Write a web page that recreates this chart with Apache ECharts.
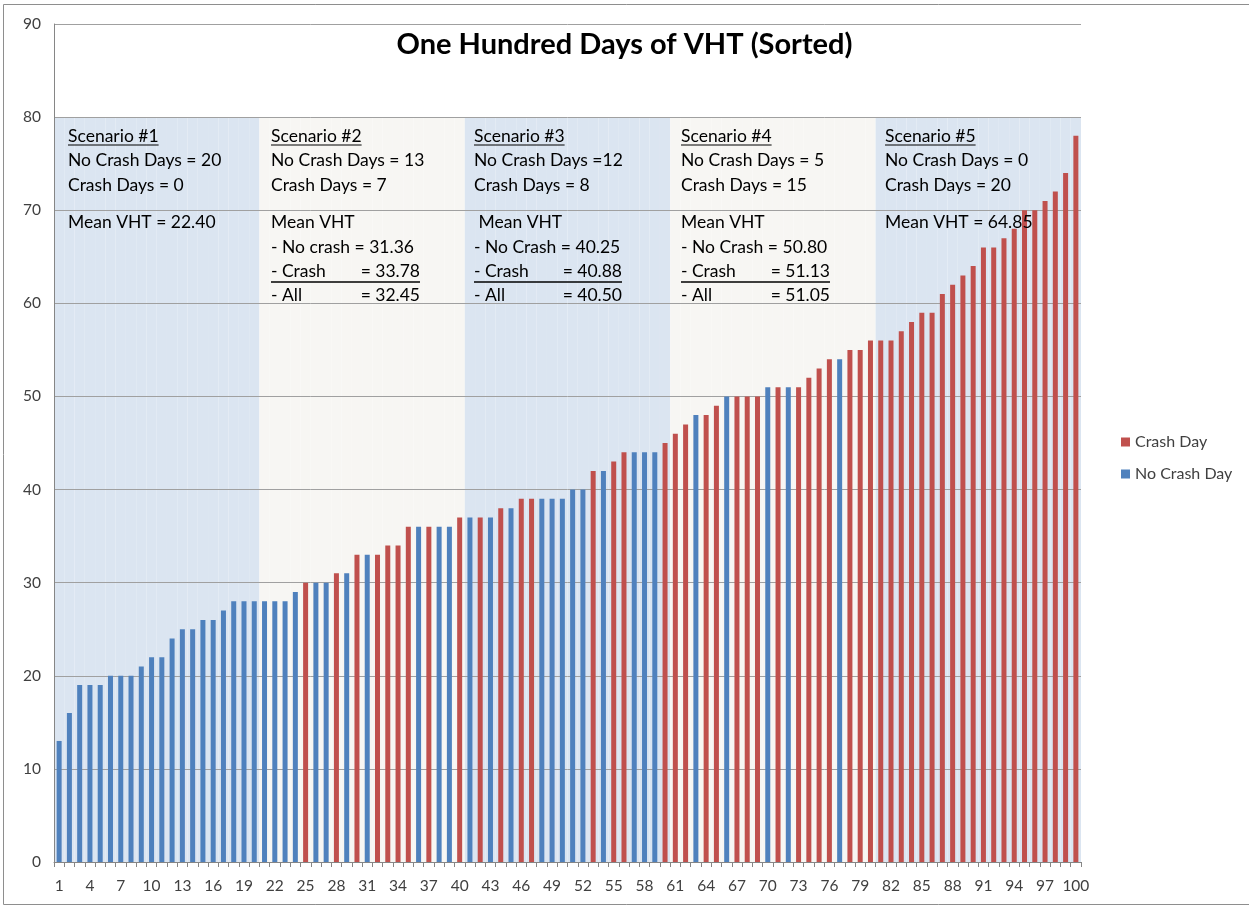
<!DOCTYPE html>
<html>
<head>
<meta charset="utf-8">
<script src="https://cdn.jsdelivr.net/npm/echarts@6/dist/echarts.min.js"></script>
<style>
html,body{margin:0;padding:0;background:#fff;}
#chart{width:1249px;height:907px;}
</style>
</head>
<body>
<div id="chart"></div>
<script>
// ---------- data ----------
const days = [1,2,3,4,5,6,7,8,9,10,11,12,13,14,15,16,17,18,19,20,
  21,22,23,24,25,26,27,28,29,30,31,32,33,34,35,36,37,38,39,40,
  41,42,43,44,45,46,47,48,49,50,51,52,53,54,55,56,57,58,59,60,
  61,62,63,64,65,66,67,68,69,70,71,72,73,74,75,76,77,78,79,80,
  81,82,83,84,85,86,87,88,89,90,91,92,93,94,95,96,97,98,99,100];
const vht = [13,16,19,19,19,20,20,20,21,22,22,24,25,25,26,26,27,28,28,28,
  28,28,28,29,30,30,30,31,31,33,33,33,34,34,36,36,36,36,36,37,
  37,37,37,38,38,39,39,39,39,39,40,40,42,42,43,44,44,44,44,45,
  46,47,48,48,49,50,50,50,50,51,51,51,51,52,53,54,54,55,55,56,
  56,56,57,58,59,59,61,62,63,64,66,66,67,68,70,70,71,72,74,78];
// C = crash day, N = no crash day
const dayType = ['N','N','N','N','N','N','N','N','N','N','N','N','N','N','N','N','N','N','N','N',
  'N','N','N','N','C','N','N','C','N','C','N','C','C','C','C','N','C','N','N','C',
  'N','C','N','C','N','C','C','N','N','N','N','N','C','N','C','C','N','N','N','C',
  'C','C','N','C','C','N','C','C','C','N','C','N','C','C','C','C','N','C','C','C',
  'C','C','C','C','C','C','C','C','C','C','C','C','C','C','C','C','C','C','C','C'];
const seriesNames = ['Crash Day','No Crash Day'];
const yTicks = [0,10,20,30,40,50,60,70,80,90];
const scenarioTop = 80;
const scenarioSize = 20;
const scenarioHeaders = ['Scenario #1','Scenario #2','Scenario #3','Scenario #4','Scenario #5'];
const countLines = [
  ['No Crash Days = 20','Crash Days = 0'],
  ['No Crash Days = 13','Crash Days = 7'],
  ['No Crash Days =12','Crash Days = 8'],
  ['No Crash Days = 5','Crash Days = 15'],
  ['No Crash Days = 0','Crash Days = 20']];
const meanLines = [
  ['Mean VHT = 22.40'],
  ['Mean VHT','- No crash = 31.36',['- Crash','= 33.78'],['- All','= 32.45']],
  [' Mean VHT','- No Crash = 40.25',['- Crash','= 40.88'],['- All','= 40.50']],
  ['Mean VHT','- No Crash = 50.80',['- Crash','= 51.13'],['- All','= 51.05']],
  ['Mean VHT = 64.85']];
const titleText = 'One Hundred Days of VHT (Sorted)';

// ---------- styles ----------
const RED = '#c0504d', BLUE = '#4f81bd';
const BG = ['#dbe5f1','#f7f6f3','#dbe5f1','#f7f6f3','#dbe5f1'];
const FONT = 'Lato, "Open Sans", sans-serif';

const crashData = vht.map((v,i)=> dayType[i]==='C' ? v : '-');
const noCrashData = vht.map((v,i)=> dayType[i]==='N' ? v : '-');
const bgData = days.map((d,i)=>({value:scenarioTop, itemStyle:{color:BG[Math.floor(i/scenarioSize)]}}));

const chart = echarts.init(document.getElementById('chart'), null, {renderer:'canvas'});

// text annotations
const measureCtx = document.createElement('canvas').getContext('2d');
function textW(t, font){ measureCtx.font = font; return measureCtx.measureText(t).width; }
const TXT_FONT = '17.5px ' + FONT;
const blockX = [68, 271, 474, 681, 885];
const blockRight = [null, 420, 622, 830, null];
const lineY = [136, 160, 185, 222, 247, 271, 295];
const graphics = [];
function addText(t, x, y, align){
  graphics.push({type:'text', x:x, y:y, z:100, silent:true,
    style:{text:t, font:TXT_FONT, fill:'#000', align:align||'left', verticalAlign:'middle'}});
}
function addLine(x1, x2, y, w){
  graphics.push({type:'line', z:100, silent:true, shape:{x1:x1,y1:y,x2:x2,y2:y},
    style:{stroke:'#000', lineWidth:w||1}});
}
for (let s=0; s<5; s++){
  const x = blockX[s];
  addText(scenarioHeaders[s], x, lineY[0]);
  addLine(x, x + textW(scenarioHeaders[s], TXT_FONT), lineY[0]+9, 1);
  addText(countLines[s][0], x, lineY[1]);
  addText(countLines[s][1], x, lineY[2]);
  meanLines[s].forEach((ln, k)=>{
    const y = lineY[3+k];
    if (Array.isArray(ln)){
      addText(ln[0], x, y);
      addText(ln[1], blockRight[s], y, 'right');
      if (k===2){ addLine(x, blockRight[s], y+11, 1.3); }
    } else {
      addText(ln, x, y);
    }
  });
}
// outer chart frame
graphics.push({type:'rect', z:0, silent:true, shape:{x:3.5,y:4.5,width:1260,height:900},
  style:{fill:'none', stroke:'#8e8e8e', lineWidth:1}});

const option = {
  animation:false,
  backgroundColor:'#ffffff',
  title:{text:titleText, left:'center', top:25,
    textStyle:{fontFamily:FONT, fontWeight:'bold', fontSize:29, color:'#000'}},
  legend:{data:seriesNames, orient:'vertical', left:1116, top:429, itemWidth:9, itemHeight:9, itemGap:16,
    icon:'rect', textStyle:{fontFamily:FONT, fontSize:16, color:'#404040'}},
  grid:{left:54, right:168, top:24, bottom:45, containLabel:false},
  xAxis:[{type:'category', data:days, boundaryGap:true,
      axisLine:{lineStyle:{color:'#868686'}},
      axisTick:{show:true, interval:0, length:5, lineStyle:{color:'#868686'}},
      axisLabel:{interval:2, margin:16, fontFamily:FONT, fontSize:15.5, color:'#404040'}},
    {type:'category', data:days, show:false}],
  yAxis:{type:'value', min:0, max:90, interval:10,
    axisLine:{show:true, lineStyle:{color:'#868686'}},
    axisTick:{show:false},
    splitLine:{lineStyle:{color:'#a0a0a0', width:1}},
    axisLabel:{margin:13, fontFamily:FONT, fontSize:15.5, color:'#404040',
      formatter:(v)=> yTicks.includes(v) ? String(v) : ''}},
  series:[
    {name:'bg', type:'bar', xAxisIndex:1, data:bgData, barWidth:'100%', barCategoryGap:'0%',
      z:-1, silent:true, itemStyle:{}},
    {name:seriesNames[0], type:'bar', stack:'v', data:crashData, barWidth:5, itemStyle:{color:RED}},
    {name:seriesNames[1], type:'bar', stack:'v', data:noCrashData, barWidth:5, itemStyle:{color:BLUE}}
  ],
  graphic:graphics
};
chart.setOption(option);
</script>
</body>
</html>
